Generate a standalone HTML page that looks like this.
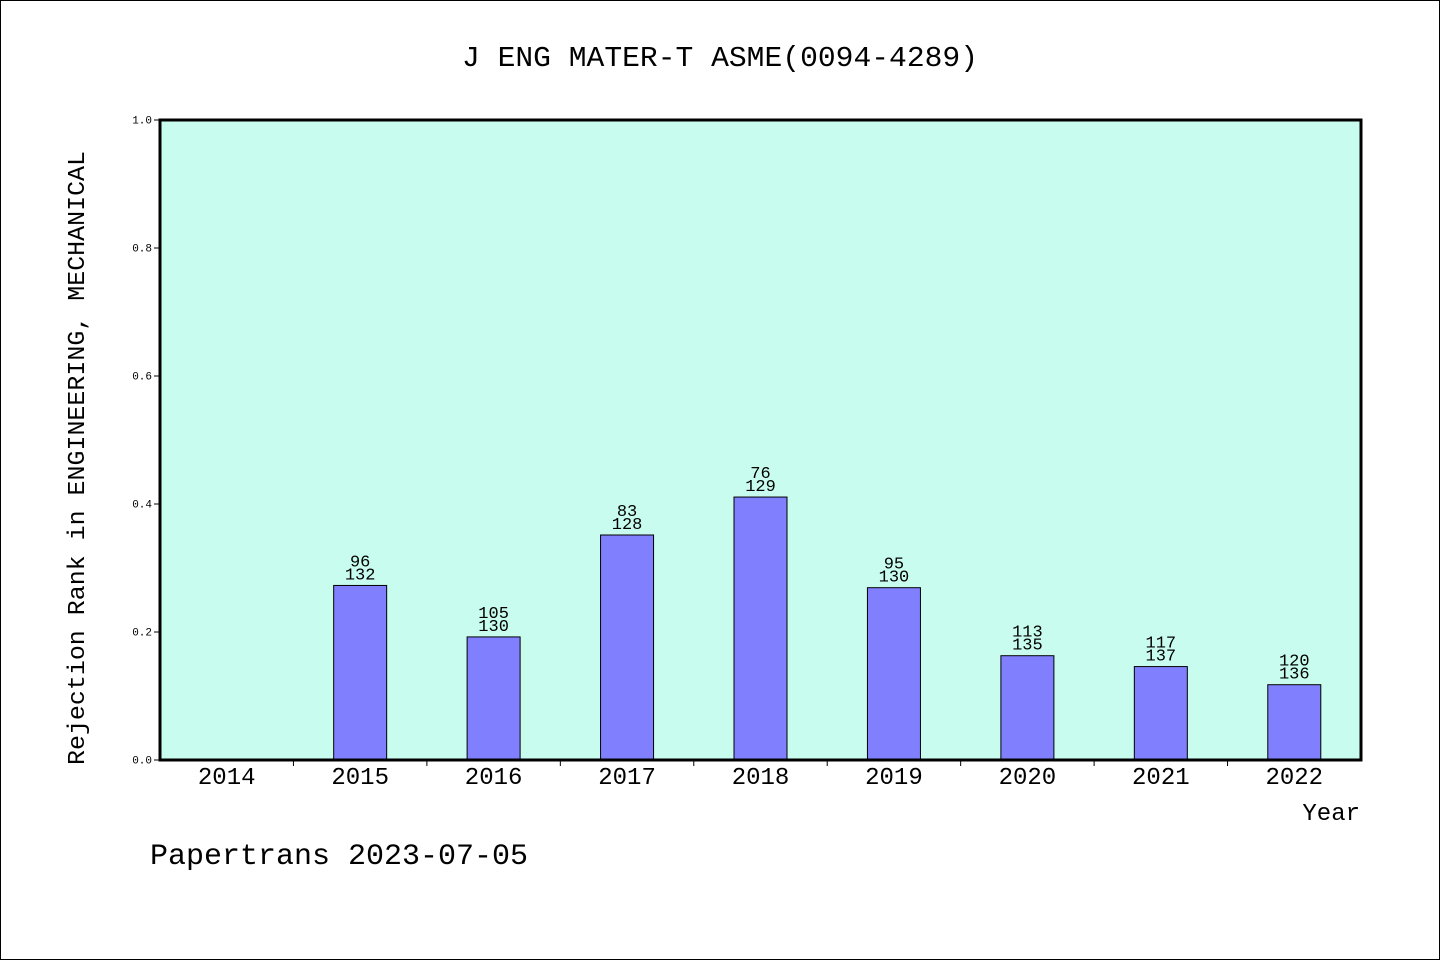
<!DOCTYPE html>
<html><head><meta charset="utf-8"><style>
html,body{margin:0;padding:0;background:#fff}
svg{display:block}
text{font-family:"Liberation Mono","WenQuanYi Zen Hei",monospace;fill:#000}
</style></head><body>
<svg width="1440" height="960" viewBox="0 0 1440 960">
<rect x="0.5" y="0.5" width="1439" height="959" fill="#fff" stroke="#000"/>
<text x="720" y="66" font-size="29" text-anchor="middle" textLength="516" lengthAdjust="spacingAndGlyphs">J ENG MATER-T ASME(0094-4289)</text>
<rect x="160" y="120" width="1201" height="640" fill="#c8fcee"/>
<g id="bars"></g>
<g id="axes"></g>
<rect x="160" y="120" width="1201" height="640" fill="none" stroke="#000" stroke-width="3"/>
<text transform="translate(84,458) rotate(-90)" font-size="24" text-anchor="middle" textLength="614" lengthAdjust="spacingAndGlyphs">Rejection Rank in ENGINEERING, MECHANICAL</text>
<text x="1360" y="820" font-size="24" text-anchor="end">Year</text>
<text x="150" y="864" font-size="30">Papertrans 2023-07-05</text>
</svg>
<script>
const categories=["2014","2015","2016","2017","2018","2019","2020","2021","2022"];
const ranks=[null,96,105,83,76,95,113,117,120];
const totals=[null,132,130,128,129,130,135,137,136];
const yTicks=["0.0","0.2","0.4","0.6","0.8","1.0"];
const NS="http://www.w3.org/2000/svg";
const X0=160,X1=1361,Y0=760,Y1=120;
const band=(X1-X0)/categories.length;
const xC=i=>X0+band*(i+0.5);
const yS=v=>Y0-(Y0-Y1)*v;
function mk(tag,attrs,parent,txt){const e=document.createElementNS(NS,tag);for(const k in attrs)e.setAttribute(k,attrs[k]);if(txt!=null)e.textContent=txt;parent.appendChild(e);return e;}
const bars=document.getElementById('bars'),axes=document.getElementById('axes');
categories.forEach((c,i)=>{
  if(ranks[i]!=null){
    const v=(totals[i]-ranks[i])/totals[i];
    const bw=53,y=yS(v);
    const r=mk('rect',{x:xC(i)-bw/2,y:y,width:bw,height:Y0-y,fill:'#8080ff',stroke:'#000','stroke-width':1},bars);
    
    
    const t1=mk('text',{x:xC(i),y:y-19,'font-size':17,'text-anchor':'middle'},bars,String(ranks[i]));
    
    
    const t2=mk('text',{x:xC(i),y:y-6,'font-size':17,'text-anchor':'middle'},bars,String(totals[i]));
    
    
  }
  const lt=mk('text',{x:xC(i),y:784,'font-size':24,'text-anchor':'middle'},axes,c);
  
  
  if(i>0){
    const tk=mk('line',{x1:X0+band*i,x2:X0+band*i,y1:Y0,y2:Y0+6,stroke:'#000'},axes);
    
    
  }
});
yTicks.forEach((t,i)=>{
  const y=yS(parseFloat(t));
  const tk=mk('line',{x1:X0-6,x2:X0,y1:y,y2:y,stroke:'#000'},axes);
  
  
  const lt=mk('text',{x:X0-8,y:y+3.5,'font-size':11,'text-anchor':'end'},axes,t);
  
  
});
</script>
</body></html>
